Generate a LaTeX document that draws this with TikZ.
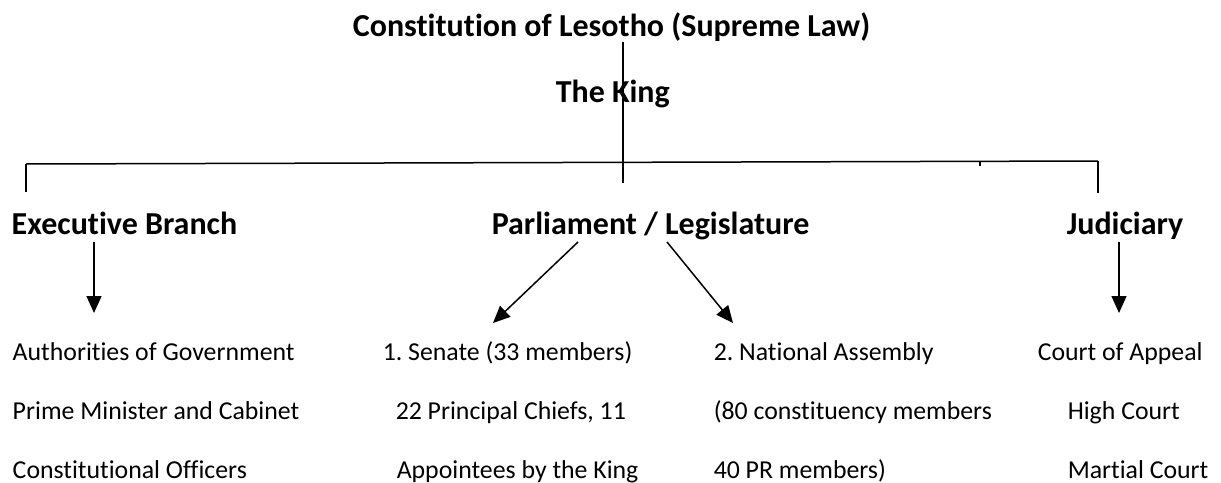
\documentclass[tikz,border=0pt]{standalone}
\usepackage{fontspec}
\setmainfont{Carlito}[Ligatures=NoCommon]
\usetikzlibrary{arrows.meta}

\begin{document}
\frenchspacing
\begin{tikzpicture}[
  x=0.5pt, y=-0.5pt,
  font=\fontsize{12.9}{15}\selectfont,
  >={Triangle[length=8.5pt,width=7.5pt]},
  line width=0.75pt,
  head/.style={font=\fontsize{16}{19}\selectfont\bfseries, inner sep=0pt},
  item/.style={anchor=base west, inner sep=0pt},
]
\useasboundingbox (0,0) rectangle (1221,482);

% top
\node[head, anchor=base] (const) at (611.5,36) {Constitution of Lesotho (Supreme Law)};
\node[head, anchor=base west] (king) at (555,102) {The King};

\coordinate (trunk) at (623,183);
\coordinate (lft) at (26,164);
\coordinate (rgt) at (1098,161);
\coordinate (tick) at (980,161.5);

\draw (const.south -| trunk) -- (trunk);
\draw (lft) -- (rgt);
\draw (lft) -- ++(0,28);
\draw (rgt) -- ++(0,32);
\draw (tick) -- ++(0,4.5);

% branches
\node[head, anchor=base west] (exec) at (11,234) {Executive Branch};
\node[head, anchor=base west] (parl) at (491,234) {Parliament / Legislature};
\node[head, anchor=base west] (judi) at (1066,234) {Judiciary};

\coordinate (ex1) at (94,242);
\coordinate (ex2) at (94,313);
\coordinate (se1) at (578,242);
\coordinate (se2) at (493,323);
\coordinate (na1) at (667,242);
\coordinate (na2) at (733,323);
\coordinate (ju1) at (1119,242);
\coordinate (ju2) at (1119,313);

\draw [->] (ex1) -- (ex2);
\draw [->] (se1) -- (se2);
\draw [->] (na1) -- (na2);
\draw [->] (ju1) -- (ju2);

% rows
\node[item] (auth) at (12,360) {Authorities of Government};
\node[item] (pm) at (12,419) {Prime Minister and Cabinet};
\node[item] (off) at (12,478) {Constitutional Officers};

\node[item] (sen) at (382,360) {1. Senate (33 members)};
\node[item] (chf) at (395,419) {22 Principal Chiefs, 11};
\node[item] (app) at (396,478) {Appointees by the King};

\node[item] (nat) at (713,360) {2. National Assembly};
\node[item] (cons) at (713,419) {(80 constituency members};
\node[item] (pr) at (713,478) {40 PR members)};

\node[item] (appeal) at (1037,360) {Court of Appeal};
\node[item] (high) at (1067,419) {High Court};
\node[item] (mart) at (1067,478) {Martial Court};

\end{tikzpicture}
\end{document}
